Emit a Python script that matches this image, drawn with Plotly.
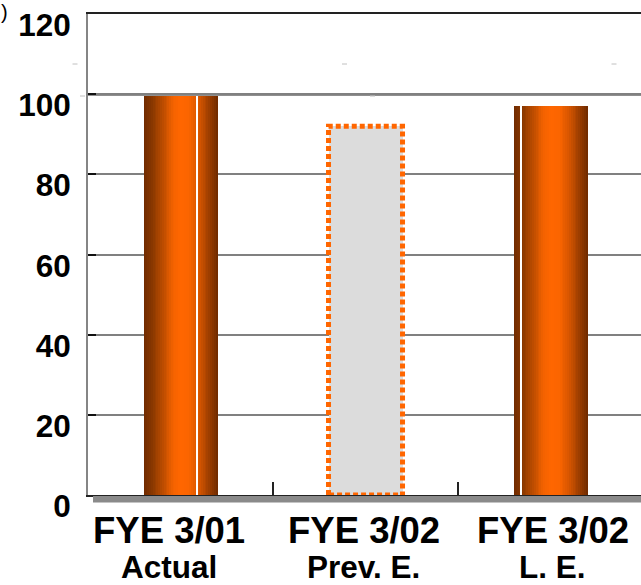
import plotly.graph_objects as go

# ---- data -------------------------------------------------------------
categories = ["FYE 3/01", "FYE 3/02", "FYE 3/02"]
subtitles = ["Actual", "Prev. E.", "L. E."]
values = [99.5, 92, 97]
y_ticks = [0, 20, 40, 60, 80, 100, 120]

# which bars are solid results and which one is the outlined estimate
solid_bars = [0, 2]
outline_bars = [1]

# ---- styling ----------------------------------------------------------
FONT = "Arial, Liberation Sans, sans-serif"
BAR_W = 0.4
N_SLICES = 40
PX_PER_CAT = 185.0
# fraction across each solid bar where the thin white highlight sits
highlight_frac = {0: 0.71, 2: 0.095}
label_xshift = [-12, -2, 2]

# cylinder shading, left edge -> right edge
shade_stops = [
    (0.00, "#6e2a00"), (0.12, "#8a3800"), (0.28, "#c24f00"),
    (0.40, "#f26200"), (0.50, "#ff6600"), (0.62, "#fb6500"),
    (0.74, "#da5700"), (0.88, "#a03f00"), (1.00, "#6e2a00"),
]


def hex_rgb(h):
    h = h.lstrip("#")
    return tuple(int(h[i:i + 2], 16) for i in (0, 2, 4))


def shade_at(u):
    for (p0, c0), (p1, c1) in zip(shade_stops[:-1], shade_stops[1:]):
        if p0 <= u <= p1:
            t = (u - p0) / (p1 - p0) if p1 > p0 else 0
            a, b = hex_rgb(c0), hex_rgb(c1)
            r, g, bl = (round(a[i] + (b[i] - a[i]) * t) for i in range(3))
            return f"rgb({r},{g},{bl})"
    return shade_stops[-1][1]


fig = go.Figure()

# solid bars: built from narrow vertical slices to give a cylinder look
sx = solid_bars
sy = [values[i] for i in solid_bars]
step = BAR_W / N_SLICES
for k in range(N_SLICES):
    fig.add_bar(
        x=sx, y=sy,
        width=step * 1.08,
        offset=-BAR_W / 2 + k * step,
        marker=dict(color=shade_at((k + 0.5) / N_SLICES), line_width=0),
        hoverinfo="skip", showlegend=False,
    )

# thin white highlight line on each solid bar
fig.add_bar(
    x=sx, y=sy,
    width=1.4 / PX_PER_CAT,
    offset=[-BAR_W / 2 + highlight_frac[i] * BAR_W for i in solid_bars],
    marker=dict(color="white", line_width=0),
    hoverinfo="skip", showlegend=False,
)

# estimate bar: light grey fill with dotted orange outline
ox = outline_bars
oy = [values[i] for i in outline_bars]
fig.add_bar(
    x=ox, y=oy, width=BAR_W,
    marker=dict(color="#dcdcdc", line_width=0),
    hoverinfo="skip", showlegend=False,
)
for i in outline_bars:
    x0, x1, v = i - BAR_W / 2, i + BAR_W / 2, values[i]
    fig.add_scatter(
        x=[x0, x0, x1, x1, x0], y=[0, v, v, 0, 0],
        mode="lines", cliponaxis=False,
        line=dict(color="#ff6600", width=5, dash="5px,3px"),
        hoverinfo="skip", showlegend=False,
    )

# darker edge under the 100 gridline
fig.add_shape(type="line", xref="paper", x0=0, x1=1, yref="y",
              y0=100 - 0.22, y1=100 - 0.22,
              line=dict(color="#333333", width=1), layer="below")

# grey floor strip beneath the baseline
PLOT_W, PLOT_H = 553.0, 481.0
fig.add_shape(type="rect", xref="paper", yref="paper",
              x0=5 / PLOT_W, x1=1, y0=-1 / PLOT_H, y1=-7.5 / PLOT_H,
              fillcolor="#8a8a8a", line_width=0, layer="above")

# category labels (two lines each)
for i, (c, s) in enumerate(zip(categories, subtitles)):
    fig.add_annotation(x=i, xref="x", y=0, yref="paper", text=c,
                       showarrow=False, yanchor="top", yshift=-13,
                       xshift=label_xshift[i],
                       font=dict(family=FONT, size=36.5, color="black",
                                 weight="bold"))
    fig.add_annotation(x=i, xref="x", y=0, yref="paper", text=s,
                       showarrow=False, yanchor="top", yshift=-52,
                       xshift=label_xshift[i],
                       font=dict(family=FONT, size=31.5, color="black",
                                 weight="bold"))

# closing bracket of the unit caption at the top-left corner
fig.add_annotation(xref="paper", yref="paper", x=(9 - 88) / PLOT_W,
                   y=(495 - 0) / PLOT_H, text=")", showarrow=False,
                   xanchor="right", yanchor="top", borderpad=0,
                   font=dict(family=FONT, size=20, color="black"))

# faint stray marks
for px, py in [(75, 64), (82.5, 96), (344.5, 64), (372.5, 96), (614, 64)]:
    fig.add_shape(type="line", xref="paper", yref="paper",
                  x0=(px - 2.5 - 88) / PLOT_W, x1=(px + 2.5 - 88) / PLOT_W,
                  y0=(495 - py) / PLOT_H, y1=(495 - py) / PLOT_H,
                  line=dict(color="#c0c0c0", width=1))

fig.update_layout(
    width=641, height=585,
    margin=dict(l=88, r=0, t=14, b=90, pad=0),
    paper_bgcolor="white", plot_bgcolor="white",
    barmode="overlay", bargap=0,
    showlegend=False,
    font=dict(family=FONT, color="black"),
)
fig.update_xaxes(
    range=[-0.5, 2.489], tickvals=[0.5, 1.5], ticks="inside", ticklen=13,
    tickcolor="#222222", tickwidth=1.5, showticklabels=False,
    showgrid=False, zeroline=False,
    showline=True, linecolor="#222222", linewidth=2, mirror=True,
)
fig.update_yaxes(
    range=[0, 120], tickvals=y_ticks, ticks="inside", ticklen=8,
    tickcolor="#111111", tickwidth=1.5,
    showgrid=True, gridcolor="#808080", gridwidth=2, zeroline=False,
    showline=True, linecolor="#858585", linewidth=2,
    tickfont=dict(family=FONT, size=31.5, color="black", weight="bold"),
    ticklabelshift=11, ticklabelstandoff=9,
)

fig.write_html("out.html")
